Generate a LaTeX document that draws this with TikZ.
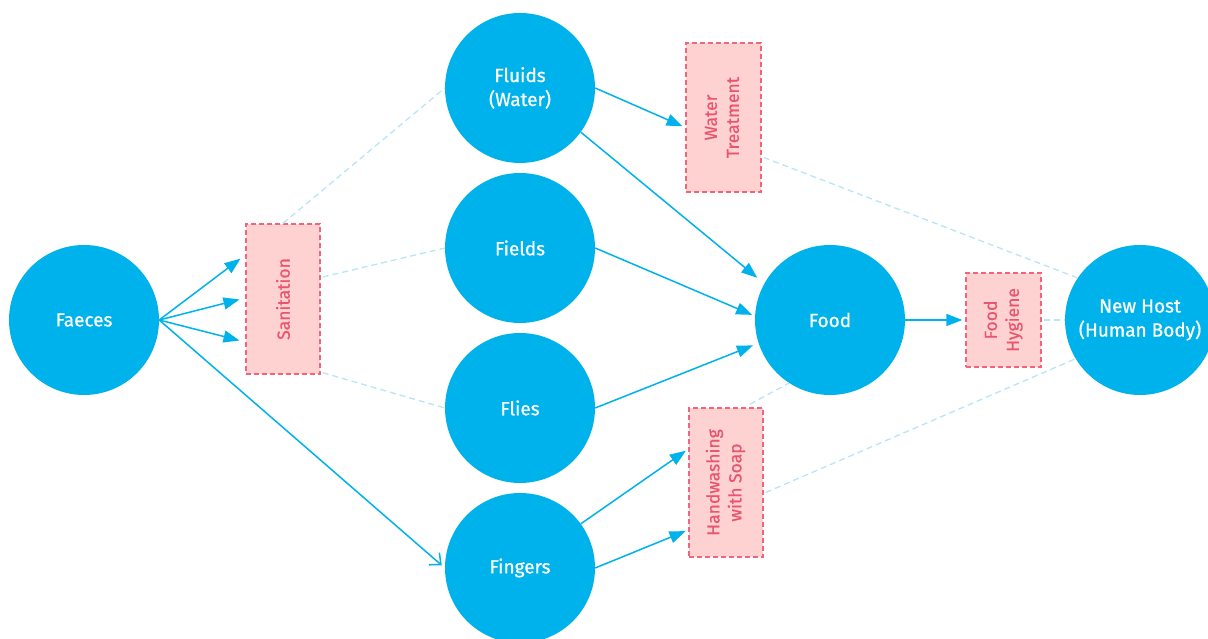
\documentclass[tikz,border=0pt]{standalone}
\usepackage{fontspec}
\setmainfont{Fira Sans}[FakeBold=0.7]
\usetikzlibrary{arrows.meta,calc}
\definecolor{cblue}{HTML}{00B2EB}
\definecolor{bfill}{HTML}{FFD2D2}
\definecolor{bdraw}{HTML}{F0667E}
\definecolor{btext}{HTML}{E8556E}
\definecolor{lblue}{HTML}{B8E5F7}
\begin{document}
\begin{tikzpicture}[x=1pt,y=1pt,
  circ/.style={circle,fill=cblue,minimum size=150pt,inner sep=0pt,text=white,font=\fontsize{19}{24}\selectfont,align=center},
  barrier/.style={rectangle,fill=bfill,draw=bdraw,line width=1.4pt,dash pattern=on 5pt off 3pt,text=btext,font=\fontsize{17.5}{22}\selectfont,align=center,inner sep=0pt},
  arr/.style={draw=cblue,line width=1.5pt,-{Triangle[length=16pt,width=12pt]}},
  openarr/.style={draw=cblue,line width=1.5pt,-{Straight Barb[length=9pt,width=16pt]}},
  faint/.style={draw=lblue,line width=1.3pt,dash pattern=on 6pt off 4pt}
]
\useasboundingbox (0,0) rectangle (1208,639);
\clip (0,0) rectangle (1208,639);
\fill[white] (0,0) rectangle (1208,639);

% circles
\node[circ] (faeces) at (84,319) {Faeces};
\node[circ] (fluids) at (520,551) {Fluids\\(Water)};
\node[circ] (fields) at (520,391) {Fields};
\node[circ] (flies) at (520,231) {Flies};
\node[circ] (fingers) at (520,71) {Fingers};
\node[circ] (food) at (830,319) {Food};
\node[circ] (host) at (1140,319) {New Host\\(Human Body)};

% barriers
\node[barrier,minimum width=74pt,minimum height=150pt] (san) at (283,340) {\rotatebox{90}{Sanitation}};
\node[barrier,minimum width=75pt,minimum height=149pt] (water) at (723.5,521.5) {\rotatebox{90}{\begin{tabular}{@{}c@{}}Water\\Treatment\end{tabular}}};
\node[barrier,minimum width=75pt,minimum height=94pt] (hyg) at (1003.5,319) {\rotatebox{90}{\begin{tabular}{@{}c@{}}Food\\Hygiene\end{tabular}}};
\node[barrier,minimum width=74pt,minimum height=149pt] (hand) at (726,156.5) {\rotatebox{90}{\begin{tabular}{@{}c@{}}Handwashing\\with Soap\end{tabular}}};

% faint dashed links
\draw[faint] (san.north) -- (fluids.180);
\draw[faint] ($(san.east)+(2,22)$) -- (fields.west);
\draw[faint] ($(san.south east)+(2,2)$) -- (flies.west);
\draw[faint] ($(water.east)+(2,-40)$) -- (host.146);
\draw[faint] ($(hyg.east)+(2,0)$) -- (host.west);
\draw[faint] ($(hand.east)+(2,-10)$) -- (host.211);
\draw[faint] ($(hand.north)+(24,3)$) -- (food.237);

% arrows
\draw[arr,shorten >=6pt] (faeces.east) -- ($(san.west)+(0,44)$);
\draw[arr,shorten >=6pt] (faeces.east) -- ($(san.west)+(0,1)$);
\draw[arr,shorten >=6pt] (faeces.east) -- ($(san.west)+(0,-43)$);
\draw[openarr,shorten >=4pt] (faeces.east) -- (fingers.west);
\draw[arr,shorten >=3pt] (fluids.east) -- ($(water.west)+(0,-10)$);
\draw[arr,shorten >=9pt] (fluids.-36) -- (food.151);
\draw[arr,shorten >=3pt] (fields.east) -- (food.177);
\draw[arr,shorten >=6pt] (flies.east) -- (food.198);
\draw[arr,shorten >=3pt] (fingers.36) -- ($(hand.west)+(0,33.5)$);
\draw[arr,shorten >=3pt] (fingers.east) -- ($(hand.west)+(0,-47.5)$);
\draw[arr,shorten >=3pt] (food.east) -- (hyg.west);
\end{tikzpicture}
\end{document}
